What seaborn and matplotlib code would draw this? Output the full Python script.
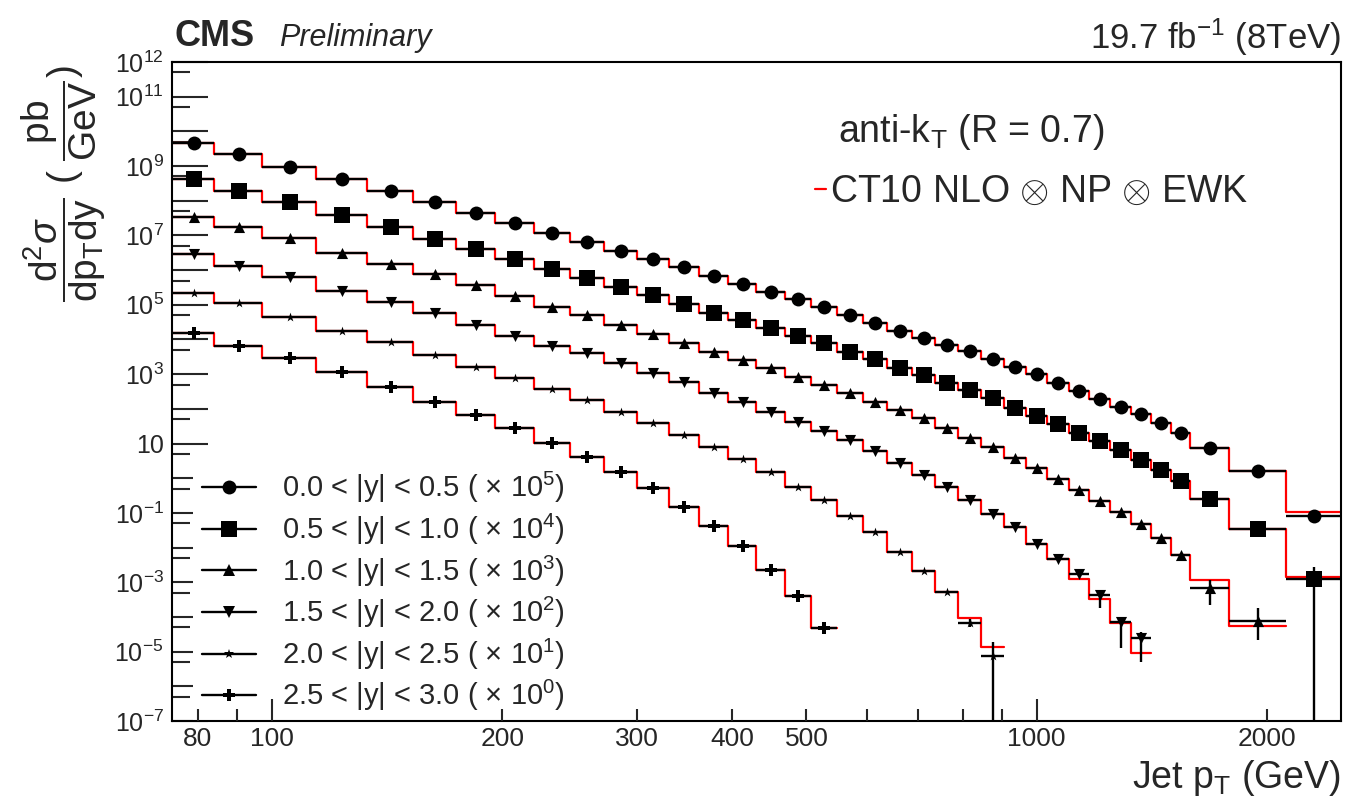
import numpy as np
import pandas as pd
import seaborn as sns
import matplotlib.pyplot as plt
from matplotlib.lines import Line2D
from matplotlib.ticker import FixedLocator, FixedFormatter

# jet pT bin edges (GeV)
pt_edges = [74, 84, 97, 114, 133, 153, 174, 196, 220, 245, 272, 300, 330, 362,
            395, 430, 468, 507, 548, 592, 638, 686, 737, 790, 846, 905, 967,
            1032, 1101, 1172, 1248, 1327, 1410, 1497, 1588, 1784, 2116, 2500]

# measured d2sigma/dpT dy (pb/GeV), already scaled by the factor in the legend
xs_y00 = [4.53e9, 2.18e9, 9.57e8, 4.15e8, 1.95e8, 9.4e7, 4.34e7, 2.23e7, 1.2e7,
          6.58e6, 3.62e6, 2.05e6, 1.25e6, 6.75e5, 3.89e5, 2.38e5, 1.44e5, 8.45e4,
          5.07e4, 2.92e4, 1.75e4, 1.08e4, 7.08e3, 4.73e3, 2.67e3, 1.64e3, 990,
          566, 333, 188, 115, 70.8, 38.2, 20.5, 7.41, 1.58, 0.0813]
xs_y05 = [4.15e8, 1.95e8, 9.4e7, 3.87e7, 1.79e7, 7.89e6, 3.97e6, 2.05e6, 1.07e6,
          5.79e5, 3.32e5, 1.91e5, 1.05e5, 5.9e4, 3.64e4, 2.09e4, 1.26e4, 7.74e3,
          4.44e3, 2.67e3, 1.53e3, 944, 562, 348, 201, 103, 61.9, 36.5, 20.5,
          11.8, 6.49, 3.34, 1.72, 0.845, 0.251, 0.0335, 1.23e-3]
xs_y10 = [3.33e7, 1.71e7, 8.24e6, 3.17e6, 1.5e6, 7.55e5, 3.72e5, 1.79e5, 8.79e4,
          5.07e4, 2.61e4, 1.41e4, 8.05e3, 4.44e3, 2.55e3, 1.47e3, 841, 485, 280,
          160, 92.3, 53.2, 28.2, 14.1, 7.76, 3.89, 1.92, 0.946, 0.456, 0.224,
          0.108, 0.0467, 0.0185, 6.08e-3, 6.67e-4, 7.6e-5]
xs_y15 = [2.85e6, 1.34e6, 6.44e5, 2.54e5, 1.22e5, 5.68e4, 2.61e4, 1.26e4, 6.59e3,
          4.15e3, 2.05e3, 1.06e3, 581, 291, 160, 82.4, 42.5, 22.9, 12.6, 6.07,
          2.68, 1.23, 0.562, 0.24, 0.0955, 0.038, 0.0123, 4.79e-3, 1.78e-3,
          4.27e-4, 7.24e-5, 2.4e-5]
xs_y20 = [2.23e5, 1.1e5, 4.35e4, 1.79e4, 8.61e3, 3.56e3, 1.64e3, 757, 365, 179,
          82.4, 38.9, 18.0, 7.94, 3.55, 1.53, 0.568, 0.24, 0.0813, 0.0275,
          7.57e-3, 2.15e-3, 5.13e-4, 6.76e-5, 7.59e-6]
xs_y25 = [1.5e4, 6.59e3, 2.86e3, 1.13e3, 434, 160, 66.2, 27.4, 10.5, 4.16, 1.53,
          0.509, 0.151, 0.0422, 0.0113, 2.25e-3, 4.0e-4, 4.68e-5]

# CT10 NLO x NP x EWK lies on the data except in these bins {bin index: value}
nlo_y00 = {36: 0.107}
nlo_y05 = {36: 1.45e-3}
nlo_y10 = {34: 1.15e-3, 35: 5.5e-5}
nlo_y15 = {28: 1.26e-3, 29: 3.24e-4, 30: 6.76e-5, 31: 9.3e-6}
nlo_y20 = {23: 9.55e-5, 24: 1.35e-5}
nlo_y25 = {}

# visible vertical error bars {bin index: (low, high)}
err_y00 = {36: (0.066, 0.1)}
err_y05 = {36: (1e-8, 2.8e-3)}
err_y10 = {34: (2.2e-4, 1.2e-3), 35: (2.14e-5, 1.78e-4)}
err_y15 = {29: (1.8e-4, 5.4e-4), 30: (1.26e-5, 1.0e-4), 31: (5.1e-6, 3.7e-5)}
err_y20 = {23: (5.0e-5, 9.0e-5), 24: (1e-8, 1.9e-5)}
err_y25 = {}

labels = [r'0.0 < |y| < 0.5 ( $\times$ 10$^{5}$)', r'0.5 < |y| < 1.0 ( $\times$ 10$^{4}$)',
          r'1.0 < |y| < 1.5 ( $\times$ 10$^{3}$)', r'1.5 < |y| < 2.0 ( $\times$ 10$^{2}$)',
          r'2.0 < |y| < 2.5 ( $\times$ 10$^{1}$)', r'2.5 < |y| < 3.0 ( $\times$ 10$^{0}$)']

series = [(xs_y00, nlo_y00, err_y00), (xs_y05, nlo_y05, err_y05),
          (xs_y10, nlo_y10, err_y10), (xs_y15, nlo_y15, err_y15),
          (xs_y20, nlo_y20, err_y20), (xs_y25, nlo_y25, err_y25)]
markers = ['o', 's', '^', 'v', '*', 'P']
msizes = [10, 11, 8, 8, 7, 8]

sns.set_theme(style='ticks')
plt.rcParams['font.family'] = ['Liberation Sans', 'DejaVu Sans']
plt.rcParams['mathtext.fontset'] = 'custom'
plt.rcParams['mathtext.rm'] = 'Liberation Sans'
plt.rcParams['mathtext.it'] = 'Liberation Sans:italic'
plt.rcParams['mathtext.bf'] = 'Liberation Sans:bold'

W, H = 1347, 809
fig = plt.figure(figsize=(W / 100, H / 100), dpi=100)
ax = fig.add_axes([172 / W, 1 - 721 / H, 1169 / W, 659 / H])
ax.set_xscale('log')
ax.set_yscale('log')

for i, (vals, nlo, errs) in enumerate(series):
    n = len(vals)
    edges = np.array(pt_edges[:n + 1], dtype=float)
    centers = 0.5 * (edges[:-1] + edges[1:])
    theory = [nlo.get(k, v) for k, v in enumerate(vals)]
    # theory histogram
    sns.lineplot(x=edges, y=theory + [theory[-1]], drawstyle='steps-post',
                 estimator=None, sort=False, color='red', lw=1.6, ax=ax,
                 zorder=2)
    # data with bin-width bars
    ax.errorbar(centers, vals, xerr=[centers - edges[:-1], edges[1:] - centers],
                fmt='none', ecolor='black', elinewidth=1.7, capsize=0, zorder=3)
    if errs:
        idx = sorted(errs)
        yv = np.array([vals[k] for k in idx])
        lo = np.array([errs[k][0] for k in idx])
        hi = np.array([errs[k][1] for k in idx])
        ax.errorbar(centers[idx], yv, yerr=[yv - lo, hi - yv], fmt='none',
                    ecolor='black', elinewidth=1.7, capsize=0, zorder=3)
    sns.scatterplot(x=centers, y=vals, marker=markers[i], s=msizes[i] ** 2,
                    color='black', edgecolor='black', linewidth=0, ax=ax,
                    zorder=4, legend=False)

ax.set_xlim(74, 2500)
ax.set_ylim(1e-7, 1e12)

for sp in ax.spines.values():
    sp.set_linewidth(1.5)
    sp.set_color('black')
    sp.set_zorder(6)
ax.xaxis.set_zorder(6)

# y ticks
ymaj = [10.0 ** k for k in range(-7, 13)]
ylab_at = {12, 11, 9, 7, 5, 3, 1, -1, -3, -5, -7}
ylabs = []
for k in range(-7, 13):
    if k not in ylab_at:
        ylabs.append('')
    elif k == 1:
        ylabs.append('10')
    else:
        ylabs.append(r'$10^{%d}$' % k)
ax.yaxis.set_major_locator(FixedLocator(ymaj))
ax.yaxis.set_major_formatter(FixedFormatter(ylabs))
ax.yaxis.set_minor_locator(FixedLocator([5 * 10.0 ** k for k in range(-7, 12)]))
ax.tick_params(axis='y', which='major', direction='in', length=26, width=1.5,
               labelsize=18, pad=6, right=False)
ax.tick_params(axis='y', which='minor', direction='in', length=13, width=1.5,
               right=False)

# x ticks
ax.xaxis.set_major_locator(FixedLocator([100, 1000]))
ax.xaxis.set_major_formatter(FixedFormatter(['100', '1000']))
xmin_t = [80, 90, 200, 300, 400, 500, 600, 700, 800, 900, 2000]
ax.xaxis.set_minor_locator(FixedLocator(xmin_t))
ax.xaxis.set_minor_formatter(FixedFormatter(['80', '', '200', '300', '400', '500',
                                             '', '', '', '', '2000']))
ax.tick_params(axis='x', which='major', direction='in', length=16, width=1.5,
               labelsize=19, pad=4, top=False)
ax.tick_params(axis='x', which='minor', direction='in', length=8.5, width=1.5,
               labelsize=19, pad=4, top=False)

ax.set_xlabel('')
ax.set_ylabel('')

# rapidity legend
handles = [Line2D([0], [0], color='black', lw=1.7, marker=m, markersize=s,
                  markeredgewidth=0) for m, s in zip(markers, msizes)]
leg = ax.legend(handles, labels, loc='upper left', bbox_to_anchor=(0.018, 0.394),
                borderaxespad=0, fontsize=21, frameon=True, framealpha=1,
                facecolor='white', edgecolor='white', fancybox=False,
                handlelength=1.85, handletextpad=0.9, labelspacing=0.22,
                borderpad=0.3)
leg.get_frame().set_linewidth(0)
ax.add_artist(leg)

leg2 = ax.legend([Line2D([0], [0], color='red', lw=1.6)],
                 [r'CT10 NLO $\otimes$ NP $\otimes$ EWK'], loc='center left',
                 bbox_to_anchor=(0.540, 0.803), borderaxespad=0, fontsize=27,
                 frameon=False, handlelength=0.3, handletextpad=0.12,
                 borderpad=0.3)

ax.text(0.570, 0.894, r'anti-k$_{\mathrm{T}}$ (R = 0.7)', transform=ax.transAxes,
        fontsize=27, ha='left', va='center')

fig.text(175 / W, 1 - 37 / H, 'CMS', fontsize=26, fontweight='bold',
         ha='left', va='center')
fig.text(279 / W, 1 - 38 / H, 'Preliminary', fontsize=22, fontstyle='italic',
         ha='left', va='center')
fig.text(1341 / W, 1 - 37 / H, r'19.7 fb$^{-1}$ (8TeV)', fontsize=25,
         ha='right', va='center')

fig.text(1341 / W, 1 - 778 / H, r'Jet p$_{\mathrm{T}}$ (GeV)', fontsize=27,
         ha='right', va='center')
fig.text(64 / W, 1 - 184 / H,
         r'$\dfrac{\mathrm{d}^{2}\sigma}{\mathrm{dp}_{\mathrm{T}}\mathrm{dy}}$ ( $\dfrac{\mathrm{pb}}{\mathrm{GeV}}$)',
         fontsize=28, rotation=90, ha='center', va='center')

fig.savefig('out.png', dpi=100)
